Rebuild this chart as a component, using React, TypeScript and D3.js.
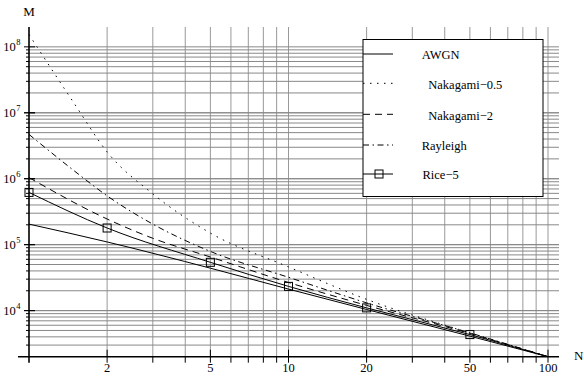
import React from "react";
import * as d3 from "d3";

const nBase = [1, 2, 5, 10, 20, 50, 100];
const awgn = [2.05e5, 1.1e5, 4.4e4, 2.12e4, 1.04e4, 4.1e3, 2.0e3];
const rice5 = [6.2e5, 1.79e5, 5.4e4, 2.33e4, 1.1e4, 4.33e3, 2.0e3];
const riceMarkerN = [1, 2, 5, 10, 20, 50];
const nNak2 = [1, 2, 3, 5, 10, 20, 50, 100];
const nak2 = [1.04e6, 2.45e5, 1.25e5, 6.5e4, 2.67e4, 1.2e4, 4.5e3, 2.0e3];
const nFine = [1, 1.5, 2, 3, 5, 10, 20, 50, 100];
const rayleigh = [4.7e6, 1.3e6, 5.5e5, 2.05e5, 7.9e4, 3.2e4, 1.31e4, 4.6e3, 2.0e3];
const nak05 = [1.54e8, 1.35e7, 2.55e6, 5.9e5, 1.5e5, 4.6e4, 1.48e4, 4.6e3, 2.0e3];

const xTickLabels = [2, 5, 10, 20, 50, 100];
const yMajor = [4, 5, 6, 7, 8];
const legendNames = ["AWGN", "Nakagami−0.5", "Nakagami−2", "Rayleigh", "Rice−5"];

const FONT = '"Liberation Serif", "Times New Roman", Times, "DejaVu Serif", serif';

export default function App() {
  const x = d3.scaleLog().domain([1, 100]).range([29, 548]);
  const y = d3.scaleLog().domain([2000, 2e8]).range([356.7, 27]);
  const left = 29, right = 559, top = 27, bottom = 356.7;

  const xGrid: number[] = [];
  for (const d of [1, 10]) for (let k = 2; k <= 10; k++) xGrid.push(k * d);
  const yGrid: number[] = [];
  for (const d of [1e3, 1e4, 1e5, 1e6, 1e7]) for (let k = 1; k <= 10; k++) {
    const v = k * d;
    if (v > 2000 && v <= 1e8) yGrid.push(v);
  }

  const line = d3
    .line<[number, number]>()
    .x((d) => x(d[0]))
    .y((d) => y(d[1]))
    .curve(d3.curveMonotoneX);

  const zip = (ns: number[], vs: number[]) => ns.map((n, i) => [n, vs[i]] as [number, number]);

  const series = [
    { name: legendNames[0], d: zip(nBase, awgn), dash: "" },
    { name: legendNames[1], d: zip(nFine, nak05), dash: "1.5,5.5" },
    { name: legendNames[2], d: zip(nNak2, nak2), dash: "7,5" },
    { name: legendNames[3], d: zip(nFine, rayleigh), dash: "6,3.5,1.5,3.5" },
    { name: legendNames[4], d: zip(nBase, rice5), dash: "" },
  ];

  const legendY = [54, 83.3, 114.3, 145, 174];
  const legendTextX = [421.7, 428.3, 428.3, 421.7, 422.5];
  const ts = { fontFamily: FONT };

  return (
    <svg
      width={584}
      height={379}
      style={{ position: "absolute", left: 0, top: 0, background: "#fff", fontFamily: FONT }}
    >
      <rect x={0} y={0} width={584} height={379} fill="#fff" />
      {xGrid.map((v) => (
        <line key={"xg" + v} x1={x(v)} x2={x(v)} y1={top} y2={bottom} stroke="#999" strokeWidth={1} />
      ))}
      {yGrid.map((v) => (
        <line key={"yg" + v} x1={left} x2={right} y1={y(v)} y2={y(v)} stroke="#888" strokeWidth={1} />
      ))}
      {xGrid.map((v) => {
        const labeled = xTickLabels.includes(v);
        return (
          <line
            key={"xt" + v}
            x1={x(v)}
            x2={x(v)}
            y1={labeled ? bottom - 7 : bottom}
            y2={bottom + 6}
            stroke="#000"
            strokeWidth={1}
          />
        );
      })}
      {xTickLabels.map((v) => (
        <text key={"xl" + v} x={x(v)} y={372} fontSize={12.5} textAnchor="middle" fill="#000" style={ts}>
          {v}
        </text>
      ))}
      {yGrid.map((v) => {
        const major = Math.abs(Math.log10(v) - Math.round(Math.log10(v))) < 1e-9;
        return (
          <line
            key={"yt" + v}
            x1={major ? left - 5 : left - 3}
            x2={major ? left + 6 : left}
            y1={y(v)}
            y2={y(v)}
            stroke="#000"
            strokeWidth={1}
          />
        );
      })}
      {yMajor.map((e) => (
        <text key={"yl" + e} x={20.5} y={y(Math.pow(10, e)) + 4} fontSize={12.5} textAnchor="end" fill="#000" style={ts}>
          10
          <tspan dx={0.5} dy={-6} fontSize={8.5}>
            {e}
          </tspan>
        </text>
      ))}
      <line x1={18} x2={right} y1={bottom} y2={bottom} stroke="#000" strokeWidth={1.6} />
      <line x1={left} x2={left} y1={top} y2={bottom + 6} stroke="#000" strokeWidth={1.6} />
      <text x={29} y={16} fontSize={13} textAnchor="middle" fill="#000" style={ts}>
        M
      </text>
      <text x={574} y={360} fontSize={13} fill="#000" style={ts}>
        N
      </text>
      {series.map((s) => (
        <path
          key={s.name}
          d={line(s.d) || ""}
          fill="none"
          stroke="#000"
          strokeWidth={1}
          strokeDasharray={s.dash || undefined}
        />
      ))}
      {riceMarkerN.map((n, i) => (
        <rect
          key={"m" + n}
          x={x(n) - 4}
          y={y(rice5[i]) - 4}
          width={8}
          height={8}
          fill="none"
          stroke="#000"
          strokeWidth={1}
        />
      ))}
      <rect x={363} y={39.5} width={180} height={157} fill="#fff" stroke="#000" strokeWidth={1} />
      {series.map((s, i) => (
        <g key={"lg" + s.name}>
          <line
            x1={363}
            x2={393}
            y1={legendY[i]}
            y2={legendY[i]}
            stroke="#000"
            strokeWidth={1}
            strokeDasharray={s.dash || undefined}
          />
          {i === 4 && (
            <rect x={375} y={legendY[i] - 4} width={8} height={8} fill="none" stroke="#000" strokeWidth={1} />
          )}
          <text x={legendTextX[i]} y={legendY[i] + 5.3} fontSize={12.5} fill="#000" style={ts}>
            {s.name}
          </text>
        </g>
      ))}
    </svg>
  );
}
